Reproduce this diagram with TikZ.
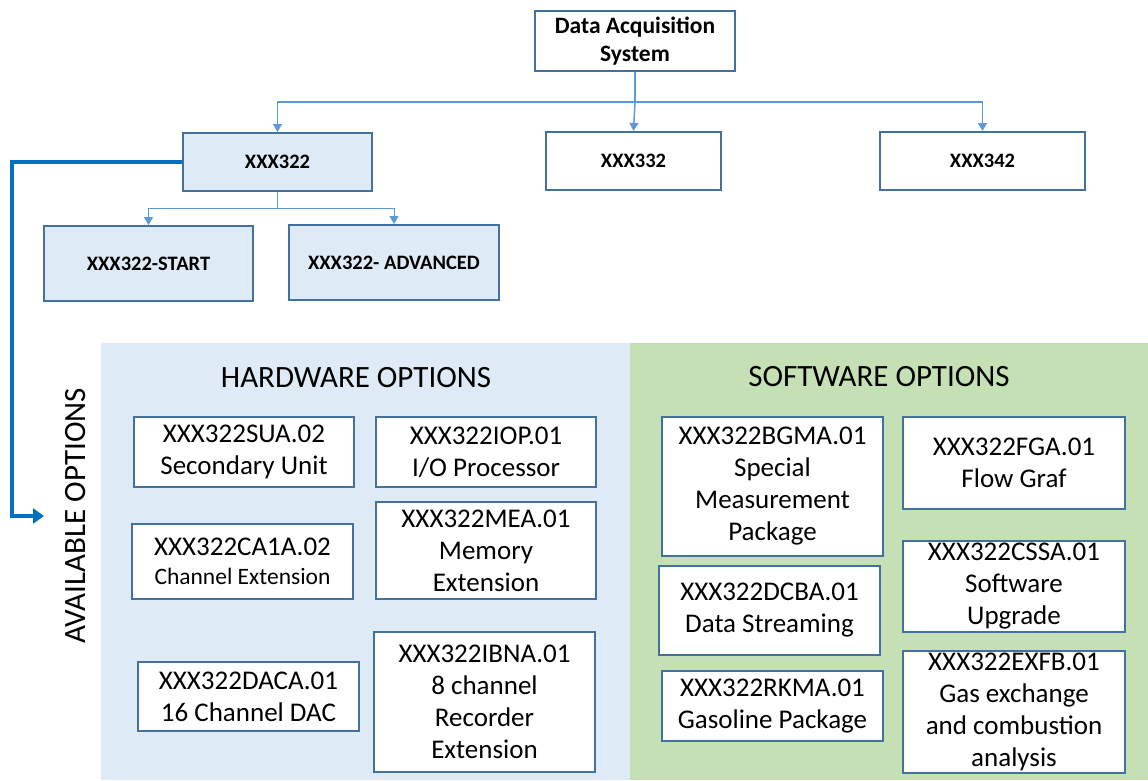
\documentclass[tikz,border=0pt]{standalone}
\usepackage{fontspec}
\setmainfont{Carlito}
\usetikzlibrary{arrows.meta}
\definecolor{boxline}{HTML}{41719C}
\definecolor{conncol}{HTML}{5B9BD5}
\definecolor{thickcol}{HTML}{0070C0}
\definecolor{lightblue}{HTML}{DEEAF6}
\definecolor{lightgreen}{HTML}{C5E0B4}
\tikzset{
  topbox/.style={draw=boxline, line width=2pt, fill=white, inner sep=0pt, align=center,
    font=\fontsize{20.5}{25}\selectfont\bfseries},
  bluebox/.style={topbox, fill=lightblue},
  optbox/.style={draw=boxline, line width=1.6pt, fill=white, inner xsep=0pt, inner ysep=-6pt, align=center,
    font=\fontsize{27}{32}\selectfont},
  conn/.style={draw=conncol, line width=1.5pt, -{Triangle[width=9pt,length=8pt]}},
  subconn/.style={draw=conncol, line width=1pt, -{Triangle[width=9pt,length=8pt]}},
  bigconn/.style={draw=thickcol, line width=4pt, -{Triangle[width=15pt,length=11pt]}},
  header/.style={font=\fontsize{31}{34}\selectfont, inner sep=0pt}
}
\begin{document}
\begin{tikzpicture}[x=1pt,y=-1pt]
\useasboundingbox (0,0) rectangle (1148,780);
% panels
\fill[lightblue] (101,343) rectangle (630,780);
\fill[lightgreen] (630,343) rectangle (1148,780);
% top tree
\node[topbox, minimum width=200, minimum height=60, font=\fontsize{23.5}{28}\selectfont\bfseries] (das) at (635,41) {Data Acquisition\\System};
\node[bluebox, minimum width=189, minimum height=58] (x322) at (277.5,162) {XXX322};
\node[topbox, minimum width=175, minimum height=58] (x332) at (633.5,161) {XXX332};
\node[topbox, minimum width=205, minimum height=58] (x342) at (982.5,161) {XXX342};
\node[bluebox, minimum width=209, minimum height=75] (start) at (148.5,263.5) {XXX322-START};
\node[bluebox, minimum width=210, minimum height=75] (adv) at (394,262.5) {XXX322- ADVANCED};
\coordinate (bus) at (634,102);
\coordinate (subbus) at (277.5,208);
\draw[conn] (das.south) -- (das.south |- bus) -| (x322.north);
\draw[conn] (das.south |- bus) -- (x332.north);
\draw[conn] (das.south |- bus) -| (x342.north);
\draw[subconn] (x322.south) -- (subbus) -| (start.north);
\draw[subconn] (subbus) -| (adv.north);
% available options
\node[header, rotate=90] (avail) at (76,516) {AVAILABLE OPTIONS};
\coordinate (availin) at (44,516);
\draw[bigconn] (x322.west) -- ++(-170,0) |- (availin);
% headers
\node[header] (hw) at (356,378) {HARDWARE OPTIONS};
\node[header] (sw) at (879,377) {SOFTWARE OPTIONS};
% hardware boxes
\node[optbox, minimum width=220, minimum height=70] (sua) at (244,452) {XXX322SUA.02\\Secondary Unit};
\node[optbox, minimum width=220, minimum height=70] (iop) at (486,452) {XXX322IOP.01\\I/O Processor};
\node[optbox, minimum width=221, minimum height=75] (ca1a) at (242.5,561.5) {XXX322CA1A.02\\[-3pt]{\fontsize{23.5}{27}\selectfont Channel Extension}};
\node[optbox, minimum width=220, minimum height=97] (mea) at (486,550.5) {XXX322MEA.01\\Memory\\Extension};
\node[optbox, minimum width=221, minimum height=69] (daca) at (248.5,696.5) {XXX322DACA.01\\16 Channel DAC};
\node[optbox, minimum width=221, minimum height=140] (ibna) at (484.5,702) {XXX322IBNA.01\\8 channel\\Recorder\\Extension};
% software boxes
\node[optbox, minimum width=221, minimum height=139] (bgma) at (772.5,486.5) {XXX322BGMA.01\\Special\\Measurement\\Package};
\node[optbox, minimum width=222, minimum height=92] (fga) at (1014,463) {XXX322FGA.01\\Flow Graf};
\node[optbox, minimum width=221, minimum height=89] (dcba) at (769.5,610.5) {XXX322DCBA.01\\Data Streaming};
\node[optbox, minimum width=222, minimum height=91] (cssa) at (1014,586.5) {XXX322CSSA.01\\Software\\Upgrade};
\node[optbox, minimum width=221, minimum height=70] (rkma) at (772.5,706) {XXX322RKMA.01\\Gasoline Package};
\node[optbox, minimum width=222, minimum height=122] (exfb) at (1014,712) {XXX322EXFB.01\\Gas exchange\\and combustion\\analysis};
\end{tikzpicture}
\end{document}
